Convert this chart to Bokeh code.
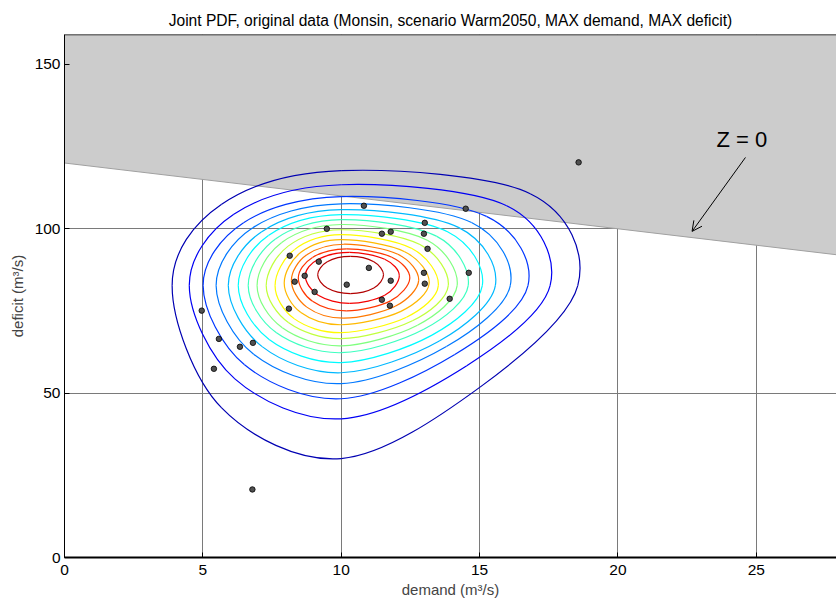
from bokeh.plotting import figure
from bokeh.models import (Range1d, FixedTicker, Arrow, OpenHead, Label, Span,
                          ColumnDataSource)
from bokeh.embed import file_html
from bokeh.resources import INLINE

# ---------------- data ----------------
title_text = "Joint PDF, original data (Monsin, scenario Warm2050, MAX demand, MAX deficit)"
x_label = "demand (m³/s)"
y_label = "deficit (m³/s)"
x_ticks = [0, 5, 10, 15, 20, 25]
y_ticks = [0, 50, 100, 150]

# observed (demand, deficit) pairs
obs_demand = [10.82, 14.50, 13.02, 9.48, 11.47, 11.79, 12.99, 13.12, 8.14, 9.19,
              11.00, 8.68, 8.32, 12.99, 14.61, 11.79, 13.02, 10.20, 9.04, 11.47,
              11.76, 13.92, 8.11, 4.96, 5.58, 6.81, 6.34, 5.40, 18.58, 6.79]
obs_deficit = [107.0, 106.1, 101.8, 100.0, 98.5, 99.1, 98.5, 93.9, 91.8, 90.0,
               88.1, 85.7, 83.9, 86.6, 86.6, 84.2, 83.3, 83.0, 80.8, 78.4,
               76.6, 78.7, 75.7, 75.1, 66.5, 65.3, 64.1, 57.4, 120.2, 20.7]

# Z = 0 boundary (deficit = 120 - demand), region above it is shaded
zero_demand = [0.0, 28.0]
zero_deficit = [120.0, 92.0]

# joint-PDF contours, outermost (lowest level) to innermost.
# each contour is read where it crosses a horizontal line (deficit = anchor_deficit)
# and a vertical line (demand = anchor_demand)
anchor_demand = [10.0, 10.0, 10.0, 10.0, 10.0, 10.0, 10.0, 10.0, 10.0, 10.0,
                 10.0, 10.1, 10.2, 10.3, 10.33]
anchor_deficit = [82.7, 82.7, 82.7, 82.7, 82.7, 82.7, 82.7, 82.7, 82.7, 82.7,
                  83.5, 84.3, 85.0, 85.7, 86.0]
contour_left = [3.89, 4.51, 5.01, 5.48, 5.92, 6.28, 6.64, 6.96, 7.29, 7.61,
                7.94, 8.20, 8.45, 8.70, 9.15]
contour_right = [18.55, 17.55, 16.75, 16.11, 15.57, 15.10, 14.59, 14.19, 13.87, 13.51,
                 13.18, 12.80, 12.48, 12.10, 11.53]
contour_top = [117.7, 113.4, 109.8, 107.6, 105.8, 104.3, 102.8, 101.3, 99.7, 98.2,
               96.7, 95.3, 93.9, 92.8, 91.6]
contour_bottom = [30.1, 42.2, 48.3, 52.9, 56.2, 59.3, 62.3, 64.4, 66.6, 68.4,
                  70.8, 72.8, 75.0, 77.3, 80.3]
# fullness of each contour in its four diagonal directions (1 = elliptic)
contour_full_ne = [1.13, 1.12, 1.10, 1.09, 1.08, 1.07, 1.06, 1.05, 1.04, 1.03,
                   1.02, 1.02, 1.01, 1.0, 1.0]
contour_full_nw = [1.0] * 15
contour_full_sw = [1.0, 0.99, 0.99, 0.99, 0.99, 0.99, 0.99, 0.99, 0.99, 1.0,
                   1.0, 1.0, 1.0, 1.0, 1.0]
contour_full_se = [0.83, 0.85, 0.86, 0.88, 0.90, 0.91, 0.92, 0.93, 0.94, 0.95,
                   0.96, 0.97, 0.98, 1.0, 1.0]

zero_text = "Z = 0"
zero_text_pos = (23.56, 127.1)
arrow_from = (24.61, 121.7)
arrow_to = (22.68, 99.2)

# ---------------- figure ----------------
FONT = "Liberation Sans"
p = figure(width=836, height=600, output_backend="svg", toolbar_location=None,
           x_range=Range1d(0, 27.9), y_range=Range1d(0, 159.1),
           min_border_left=64, min_border_right=0, min_border_top=34,
           min_border_bottom=43, background_fill_color="white",
           border_fill_color="white", outline_line_color=None)

p.title.text = title_text
p.title.align = "center"
p.title.text_font = FONT
p.title.text_font_size = "15.6px"
p.title.text_font_style = "normal"
p.title.text_color = "black"
p.title.standoff = 11

for ax, ticks in ((p.xaxis, x_ticks), (p.yaxis, y_ticks)):
    ax.ticker = FixedTicker(ticks=ticks)
    ax.major_tick_in = 5
    ax.major_tick_out = 0
    ax.minor_tick_line_color = None
    ax.major_label_text_font = FONT
    ax.major_label_text_font_size = "15.5px"
    ax.major_label_text_color = "black"
    ax.axis_label_text_font = FONT
    ax.axis_label_text_font_size = "15px"
    ax.axis_label_text_font_style = "normal"
    ax.axis_line_color = "black"
    ax.major_tick_line_color = "black"

p.xaxis.axis_label = x_label
p.yaxis.axis_label = y_label
p.xaxis.axis_line_width = 2
p.xaxis.major_label_standoff = 7
p.xaxis.axis_label_standoff = 3
p.yaxis.major_label_standoff = 4
p.yaxis.axis_label_standoff = 6

p.xgrid.ticker = FixedTicker(ticks=x_ticks)
p.ygrid.ticker = FixedTicker(ticks=y_ticks)
p.grid.grid_line_color = "#7a7a7a"
p.grid.grid_line_width = 1

# shaded region above Z = 0
p.patch(x=[zero_demand[0], zero_demand[1], zero_demand[1], zero_demand[0]],
        y=[zero_deficit[0], zero_deficit[1], 200, 200],
        fill_color="#cccccc", line_color="#a0a0a0", line_width=1)

# top frame line
p.add_layout(Span(location=159.1, dimension="width", line_color="black", line_width=1.5))


def jet(t):
    def c(v):
        return max(0.0, min(1.0, v))
    r = c(1.5 - abs(4 * t - 3))
    g = c(1.5 - abs(4 * t - 2))
    b = c(1.5 - abs(4 * t - 1))
    return "#%02x%02x%02x" % (int(r * 255), int(g * 255), int(b * 255))


n_lev = len(contour_left)
cols = {k: [] for k in ("x0", "y0", "x1", "y1", "cx0", "cy0", "cx1", "cy1", "color")}
for i in range(n_lev):
    cx, cy = anchor_demand[i], anchor_deficit[i]
    R = contour_right[i] - cx
    L = cx - contour_left[i]
    T = contour_top[i] - cy
    B = cy - contour_bottom[i]
    s = 0.70711
    pts = [
        (contour_right[i], cy),
        (cx + contour_full_ne[i] * s * R, cy + contour_full_ne[i] * s * T),
        (cx, contour_top[i]),
        (cx - contour_full_nw[i] * s * L, cy + contour_full_nw[i] * s * T),
        (contour_left[i], cy),
        (cx - contour_full_sw[i] * s * L, cy - contour_full_sw[i] * s * B),
        (cx, contour_bottom[i]),
        (cx + contour_full_se[i] * s * R, cy - contour_full_se[i] * s * B),
    ]
    n = len(pts)
    color = jet(0.05 + 0.9 * i / (n_lev - 1))
    for j in range(n):
        P0, P1, P2, P3 = pts[j - 1], pts[j], pts[(j + 1) % n], pts[(j + 2) % n]
        cols["x0"].append(P1[0]); cols["y0"].append(P1[1])
        cols["x1"].append(P2[0]); cols["y1"].append(P2[1])
        cols["cx0"].append(P1[0] + (P2[0] - P0[0]) / 6)
        cols["cy0"].append(P1[1] + (P2[1] - P0[1]) / 6)
        cols["cx1"].append(P2[0] - (P3[0] - P1[0]) / 6)
        cols["cy1"].append(P2[1] - (P3[1] - P1[1]) / 6)
        cols["color"].append(color)

p.bezier(x0="x0", y0="y0", x1="x1", y1="y1", cx0="cx0", cy0="cy0",
         cx1="cx1", cy1="cy1", line_color="color", line_width=1.2,
         source=ColumnDataSource(cols))

p.scatter(obs_demand, obs_deficit, size=5.5, fill_color="#505050",
          line_color="black", line_width=0.8)

p.add_layout(Label(x=zero_text_pos[0], y=zero_text_pos[1], text=zero_text,
                   text_font=FONT, text_font_size="22px", text_color="black",
                   text_baseline="alphabetic"))
p.add_layout(Arrow(end=OpenHead(size=10, line_width=1, line_color="black"),
                   x_start=arrow_from[0], y_start=arrow_from[1],
                   x_end=arrow_to[0], y_end=arrow_to[1],
                   line_color="black", line_width=1))

open("out.html", "w").write(file_html(p, INLINE))
